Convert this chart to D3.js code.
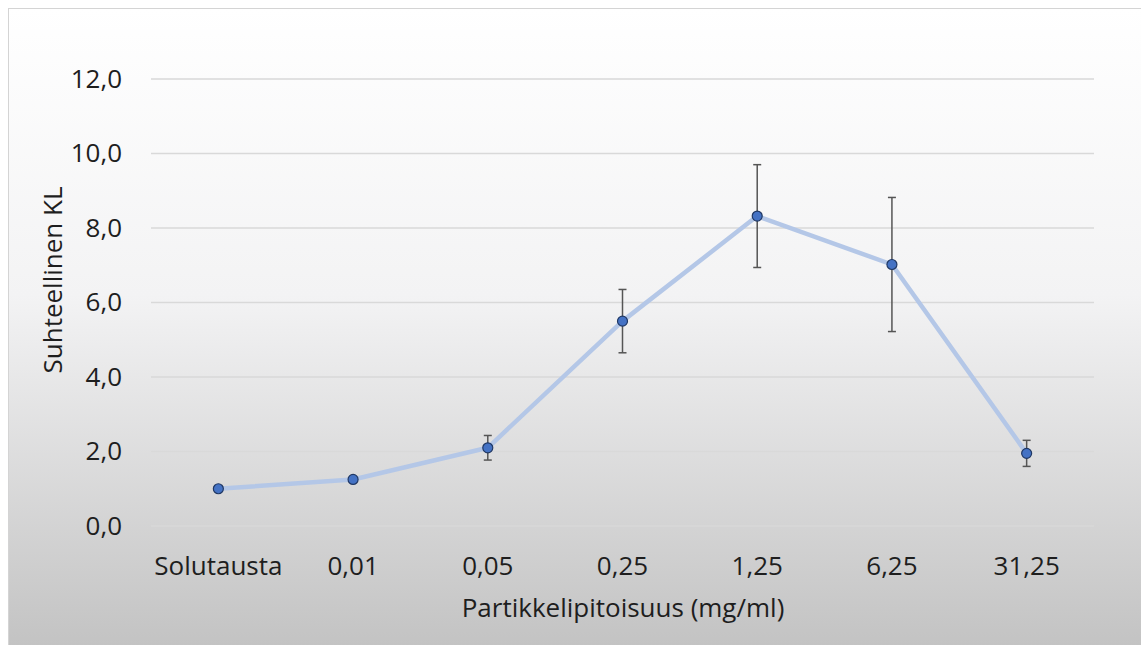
<!DOCTYPE html>
<html><head><meta charset="utf-8">
<script src="https://cdn.jsdelivr.net/npm/d3@7"></script>
<style>body{margin:0;background:#fff;}svg{display:block;}</style>
</head><body>
<script>
const categories = ["Solutausta","0,01","0,05","0,25","1,25","6,25","31,25"];
const values = [1.0, 1.25, 2.1, 5.5, 8.32, 7.02, 1.95];
const errors = [0, 0.07, 0.33, 0.85, 1.38, 1.8, 0.35];
const yTicks = [0,2,4,6,8,10,12];
const yTitle = "Suhteellinen KL";
const xTitle = "Partikkelipitoisuus (mg/ml)";

const W = 1141, H = 645;
const svg = d3.select("body").append("svg").attr("width", W).attr("height", H);
const defs = svg.append("defs");
const g = defs.append("linearGradient").attr("id","bg").attr("x1",0).attr("y1",0).attr("x2",0).attr("y2",1);
g.append("stop").attr("offset","0%").attr("stop-color","#ffffff");
g.append("stop").attr("offset","45%").attr("stop-color","#f3f3f4");
g.append("stop").attr("offset","100%").attr("stop-color","#c3c3c3");
svg.append("rect").attr("x",8.5).attr("y",8.5).attr("width",W-8).attr("height",H-8)
  .attr("fill","url(#bg)").attr("stroke","#d4d4d4").attr("stroke-width",1);

const font = "'Open Sans', 'Noto Sans', sans-serif";
const fs = 26;
const x = d3.scaleBand().domain(categories).range([151, 1094]);
const y = d3.scaleLinear().domain([0,12]).range([526, 79]);

// grid
svg.append("g").selectAll("line").data(yTicks).join("line")
  .attr("x1",151).attr("x2",1094).attr("y1",d=>y(d)).attr("y2",d=>y(d))
  .attr("stroke","#d9d9d9").attr("stroke-width",1.3);

// y axis
const ya = svg.append("g").attr("transform","translate(151,0)")
  .call(d3.axisLeft(y).tickValues(yTicks).tickSize(0).tickPadding(29).tickFormat(d=>d3.format(".1f")(d).replace(".",",")));
ya.select(".domain").remove();
ya.selectAll("text").attr("font-family",font).attr("font-size",fs).attr("fill","#1e1e1e");

// x axis
const xa = svg.append("g").attr("transform","translate(0,526)")
  .call(d3.axisBottom(x).tickSize(0).tickPadding(31));
xa.select(".domain").remove();
xa.selectAll("text").attr("font-family",font).attr("font-size",fs).attr("fill","#1e1e1e");

// titles
svg.append("text").attr("transform","translate(62,280) rotate(-90)")
  .attr("text-anchor","middle").attr("font-family",font).attr("font-size",fs).attr("fill","#1e1e1e").text(yTitle);
svg.append("text").attr("x",623).attr("y",617).attr("text-anchor","middle")
  .attr("font-family",font).attr("font-size",fs).attr("fill","#1e1e1e").text(xTitle);

const cx = (d,i)=>x(categories[i]) + x.bandwidth()/2;

// line
svg.append("path").datum(values)
  .attr("d", d3.line().x((d,i)=>cx(d,i)).y(d=>y(d)))
  .attr("fill","none").attr("stroke","#b4c7e7").attr("stroke-width",4.5).attr("stroke-linejoin","round");

// error bars
const eb = svg.append("g").attr("stroke","#555").attr("stroke-width",1.5);
values.forEach((v,i)=>{
  if(!errors[i]) return;
  const xc = cx(v,i);
  eb.append("line").attr("x1",xc).attr("x2",xc).attr("y1",y(v+errors[i])).attr("y2",y(v-errors[i]));
  eb.append("line").attr("x1",xc-4).attr("x2",xc+4).attr("y1",y(v+errors[i])).attr("y2",y(v+errors[i]));
  eb.append("line").attr("x1",xc-4).attr("x2",xc+4).attr("y1",y(v-errors[i])).attr("y2",y(v-errors[i]));
});

// markers
svg.append("g").selectAll("circle").data(values).join("circle")
  .attr("cx",(d,i)=>cx(d,i)).attr("cy",d=>y(d)).attr("r",5)
  .attr("fill","#4472c4").attr("stroke","#203864").attr("stroke-width",1.2);
</script>
</body></html>
